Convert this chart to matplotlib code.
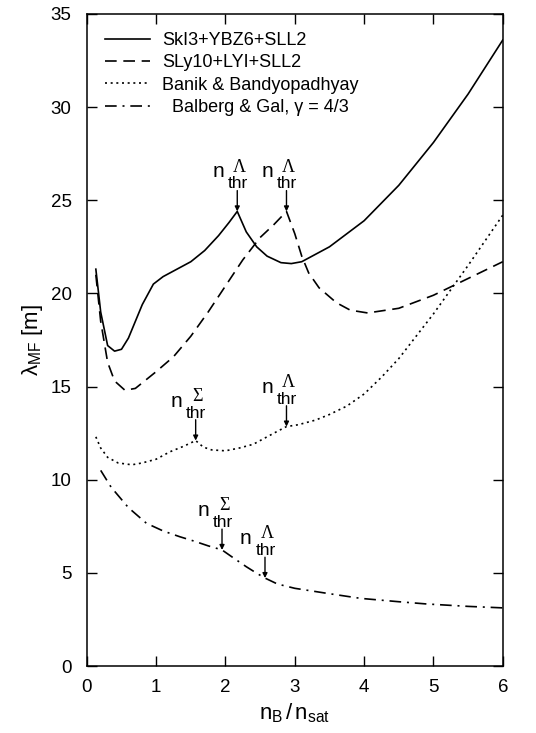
import numpy as np
import matplotlib
matplotlib.use("Agg")
import matplotlib.pyplot as plt

plt.rcParams['font.family'] = ['Liberation Sans', 'DejaVu Sans']
plt.rcParams['mathtext.fontset'] = 'custom'
plt.rcParams['mathtext.rm'] = 'Liberation Sans'
plt.rcParams['mathtext.it'] = 'Liberation Sans:italic'

# SkI3+YBZ6+SLL2
x_ski3 = [0.13, 0.2, 0.3, 0.4, 0.5, 0.6, 0.7, 0.8, 0.96, 1.1, 1.3, 1.5, 1.7, 1.9, 2.05, 2.17,
          2.3, 2.45, 2.6, 2.8, 2.95, 3.1, 3.5, 4.0, 4.5, 5.0, 5.5, 6.0]
y_ski3 = [21.3, 19.0, 17.2, 16.9, 17.0, 17.6, 18.5, 19.4, 20.5, 20.9, 21.3, 21.7, 22.3, 23.1, 23.8, 24.4,
          23.3, 22.5, 22.0, 21.65, 21.6, 21.7, 22.5, 23.9, 25.8, 28.1, 30.7, 33.6]

# SLy10+LYI+SLL2
x_sly10 = [0.13, 0.2, 0.3, 0.4, 0.55, 0.7, 1.0, 1.25, 1.5, 1.75, 2.0, 2.25, 2.5, 2.7, 2.88,
           3.0, 3.1, 3.2, 3.35, 3.6, 3.8, 4.05, 4.5, 5.0, 5.5, 6.0]
y_sly10 = [21.0, 18.5, 16.3, 15.3, 14.8, 14.9, 15.8, 16.6, 17.7, 19.0, 20.4, 21.8, 23.0, 23.7, 24.4,
           23.2, 22.0, 21.1, 20.3, 19.5, 19.1, 18.95, 19.2, 19.9, 20.8, 21.7]

# Banik & Bandyopadhyay
x_banik = [0.13, 0.2, 0.3, 0.45, 0.65, 0.8, 1.0, 1.2, 1.4, 1.57, 1.68, 1.8, 2.0, 2.2, 2.4, 2.6, 2.75, 2.88,
           3.05, 3.3, 3.5, 3.75, 4.0, 4.25, 4.5, 5.0, 5.5, 6.0]
y_banik = [12.3, 11.7, 11.2, 10.9, 10.8, 10.9, 11.1, 11.5, 11.8, 12.1, 11.75, 11.6, 11.55, 11.7, 11.9, 12.3, 12.6, 12.85,
           12.95, 13.2, 13.5, 13.95, 14.6, 15.5, 16.5, 18.9, 21.5, 24.2]

# Balberg & Gal, gamma = 4/3
x_balberg = [0.2, 0.35, 0.6, 0.86, 1.1, 1.34, 1.55, 1.75, 1.95, 2.1, 2.3, 2.45, 2.57, 2.75, 3.0, 3.5,
             3.95, 4.5, 4.9, 5.5, 6.0]
y_balberg = [10.5, 9.6, 8.5, 7.66, 7.25, 6.94, 6.7, 6.45, 6.23, 5.84, 5.33, 4.98, 4.72, 4.4, 4.17, 3.88,
             3.63, 3.45, 3.33, 3.2, 3.12]

labels = ['SkI3+YBZ6+SLL2', 'SLy10+LYI+SLL2', 'Banik & Bandyopadhyay',
          '  Balberg & Gal, γ = 4/3']

# hyperon thresholds: density, which curve, which species
thr_x = [2.17, 2.88, 1.57, 2.88, 1.95, 2.57]
thr_curve = [0, 1, 2, 2, 3, 3]
thr_sym = ['Λ', 'Λ', 'Σ', 'Λ', 'Σ', 'Λ']

curves = [(x_ski3, y_ski3), (x_sly10, y_sly10), (x_banik, y_banik), (x_balberg, y_balberg)]
styles = ['-', (0, (7, 4)), (0, (1.2, 2.2)), (0, (7, 3.5, 1.2, 3.5))]

fig = plt.figure(figsize=(5.36, 7.33), dpi=100)
ax = fig.add_axes([0.162, 0.0914, 0.776, 0.8896])

for (xs, ys), ls, lab in zip(curves, styles, labels):
    ax.plot(xs, ys, color='black', lw=1.2, linestyle=ls, label=lab)

# threshold markers: arrow down to the curve, label "n_thr" with species on top
for tx, ci, sym in zip(thr_x, thr_curve, thr_sym):
    xs, ys = curves[ci]
    yc = np.interp(tx, xs, ys)
    ax.annotate('', xy=(tx, yc), xytext=(0, 15), textcoords='offset points',
                arrowprops=dict(arrowstyle='-|>', color='black', lw=1.0,
                                mutation_scale=7, shrinkA=0, shrinkB=0))
    ax.annotate('thr', xy=(tx, yc), xytext=(0.5, 16.5), textcoords='offset points',
                ha='center', va='baseline', fontsize=12.5)
    ax.annotate('n', xy=(tx, yc), xytext=(-9.5, 24.5), textcoords='offset points',
                ha='right', va='baseline', fontsize=15)
    ax.annotate(sym, xy=(tx, yc), xytext=(1.5, 28.5), textcoords='offset points',
                ha='center', va='baseline', fontsize=13, family='Liberation Serif')

ax.set_xlim(0, 6)
ax.set_ylim(0, 35)
ax.set_xticks(range(0, 7))
ax.set_yticks(range(0, 36, 5))
ax.tick_params(direction='in', top=True, right=True, length=7, width=1, labelsize=13.5)
ax.tick_params(axis='y', pad=11)
ax.tick_params(axis='x', pad=9)
for s in ax.spines.values():
    s.set_linewidth(1.1)

ax.set_xlabel(r'$\mathrm{n_B}\,/\,\mathrm{n_{sat}}$', fontsize=16, labelpad=4)
ax.set_ylabel(r'λ$_{\mathrm{MF}}$ [m]', fontsize=16, labelpad=4)

ax.legend(loc='upper left', frameon=False, fontsize=13, handlelength=2.5,
          handletextpad=0.65, labelspacing=0.3, borderaxespad=0.6)

fig.savefig('out.png', dpi=100)
